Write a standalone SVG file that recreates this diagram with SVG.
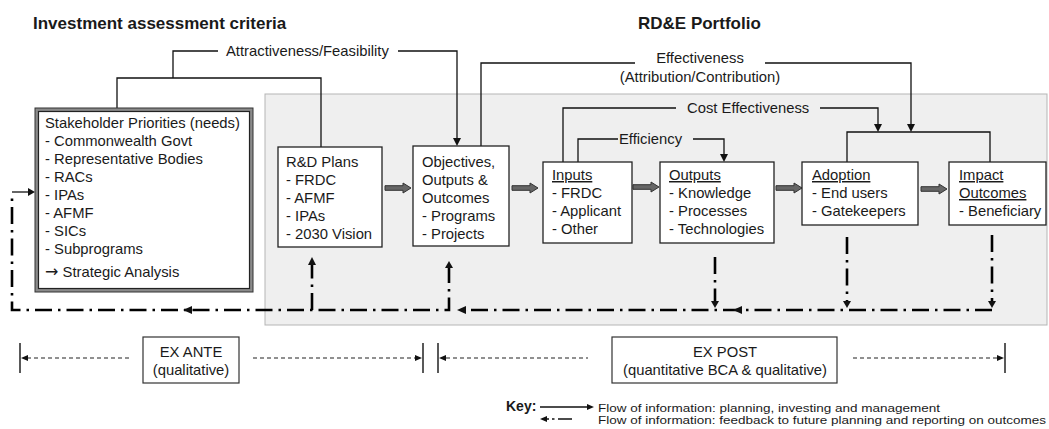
<svg xmlns="http://www.w3.org/2000/svg" width="1049" height="429" viewBox="0 0 1049 429">
<defs>
<style>
text{font-family:"Liberation Sans",Arial,sans-serif;fill:#1a1a1a}
.t{font-size:14.8px}
.h{font-size:17px;font-weight:bold}
.k{font-size:11.5px}
.u{text-decoration:underline}
.box{fill:#fff;stroke:#222;stroke-width:1.3}
.ln{fill:none;stroke:#111;stroke-width:1.3}
.fb{fill:none;stroke:#000;stroke-width:2.6;stroke-dasharray:17 6 2.5 6}
.dsh{fill:none;stroke:#222;stroke-width:1.1;stroke-dasharray:4 3}
.bar{stroke:#222;stroke-width:1.5}
.ah{fill:#111}
.blk{fill:#666;stroke:#333;stroke-width:1}
.arr{font-family:"DejaVu Sans","Noto Sans",sans-serif;font-size:16px}
</style>
<path id="blk" d="M0,-2.3 H18 V-5 L26,0 L18,5 V2.3 H0 Z"/>
</defs>

<text class="h" x="33" y="29">Investment assessment criteria</text>
<text class="h" x="638" y="29">RD&amp;E Portfolio</text>

<rect id="panel" x="265" y="94" width="782" height="231" fill="#efefef" stroke="#b5b5b5" stroke-width="1"/>

<g id="connectors">
<!-- Attractiveness / Feasibility -->
<path class="ln" d="M117,108 V78 H321 V147"/>
<path class="ln" d="M173,78 V51 H218"/>
<path class="ln" d="M398,51 H457 V139"/>
<polygon class="ah" points="453,138 461,138 457,146"/>
<!-- Effectiveness -->
<path class="ln" d="M481,146 V63 H635"/>
<path class="ln" d="M765,63 H911 V125"/>
<polygon class="ah" points="907,124 915,124 911,132"/>
<!-- Cost Effectiveness -->
<path class="ln" d="M563,162 V108 H676"/>
<path class="ln" d="M820,108 H878 V125"/>
<polygon class="ah" points="874,124 882,124 878,132"/>
<!-- bracket over Adoption/Impact -->
<path class="ln" d="M847,162 V132 H990 V162"/>
<!-- Efficiency -->
<path class="ln" d="M578,162 V139 H618"/>
<path class="ln" d="M693,139 H724 V155"/>
<polygon class="ah" points="720,154 728,154 724,162"/>

<!-- block arrows -->
<use href="#blk" class="blk" x="385" y="188"/>
<use href="#blk" class="blk" x="512" y="188"/>
<use href="#blk" class="blk" x="633" y="187"/>
<use href="#blk" class="blk" x="776" y="188"/>
<use href="#blk" class="blk" x="921" y="189"/>

<!-- entry arrow -->
<path class="ln" d="M12,192 H29" stroke-width="1.8"/>
<polygon class="ah" points="28,188 35,192 28,196"/>

<!-- feedback lines -->
<path class="fb" d="M449,266 V310 H12 V198"/>
<polygon class="ah" points="183,310 192,306 192,314"/>
<polygon class="ah" points="445,268 453,268 449,261"/>
<path class="fb" d="M312,310 V264"/>
<polygon class="ah" points="308,265 316,265 312,257"/>
<path class="fb" d="M992,310 H465"/>
<polygon class="ah" points="457,310 466,306 466,314"/>
<polygon class="ah" points="733,310 742,306 742,314"/>
<path class="fb" d="M715,257 V302"/>
<polygon class="ah" points="711,301 719,301 715,308"/>
<path class="fb" d="M847,237 V302"/>
<polygon class="ah" points="843,301 851,301 847,308"/>
<path class="fb" d="M992,235 V302"/>
<polygon class="ah" points="988,301 996,301 992,308"/>
</g>

<g id="labels">
<text class="t" x="226" y="56">Attractiveness/Feasibility</text>
<text class="t" x="700" y="63" text-anchor="middle">Effectiveness</text>
<text class="t" x="700" y="82" text-anchor="middle">(Attribution/Contribution)</text>
<text class="t" x="687" y="113">Cost Effectiveness</text>
<text class="t" x="619" y="144">Efficiency</text>
</g>

<g id="stakeholder">
<rect x="35" y="108" width="218" height="184" fill="#8a8a8a" stroke="#333" stroke-width="1"/>
<rect x="38.5" y="111.5" width="211" height="177" fill="#fff" stroke="#222" stroke-width="1.2"/>
<text class="t" x="45" y="128">Stakeholder Priorities (needs)</text>
<text class="t" x="45" y="146">- Commonwealth Govt</text>
<text class="t" x="45" y="164">- Representative Bodies</text>
<text class="t" x="45" y="182">- RACs</text>
<text class="t" x="45" y="200">- IPAs</text>
<text class="t" x="45" y="218">- AFMF</text>
<text class="t" x="45" y="236">- SICs</text>
<text class="t" x="45" y="254">- Subprograms</text>
<text class="t" x="45" y="277"><tspan class="arr">→</tspan> Strategic Analysis</text>
</g>

<g id="rdplans">
<rect class="box" x="278" y="147" width="104" height="100"/>
<text class="t" x="286" y="167">R&amp;D Plans</text>
<text class="t" x="286" y="185">- FRDC</text>
<text class="t" x="286" y="203">- AFMF</text>
<text class="t" x="286" y="221">- IPAs</text>
<text class="t" x="286" y="239">- 2030 Vision</text>
</g>

<g id="objectives">
<rect class="box" x="413" y="146" width="96" height="100"/>
<text class="t" x="422" y="167">Objectives,</text>
<text class="t" x="422" y="185">Outputs &amp;</text>
<text class="t" x="422" y="203">Outcomes</text>
<text class="t" x="422" y="221">- Programs</text>
<text class="t" x="422" y="239">- Projects</text>
</g>

<g id="inputs">
<rect class="box" x="543" y="162" width="89" height="81"/>
<text class="t u" x="552" y="180">Inputs</text>
<text class="t" x="552" y="198">- FRDC</text>
<text class="t" x="552" y="216">- Applicant</text>
<text class="t" x="552" y="234">- Other</text>
</g>

<g id="outputs">
<rect class="box" x="660" y="162" width="114" height="81"/>
<text class="t u" x="669" y="180">Outputs</text>
<text class="t" x="669" y="198">- Knowledge</text>
<text class="t" x="669" y="216">- Processes</text>
<text class="t" x="669" y="234">- Technologies</text>
</g>

<g id="adoption">
<rect class="box" x="802" y="162" width="116" height="63"/>
<text class="t u" x="812" y="180">Adoption</text>
<text class="t" x="812" y="198">- End users</text>
<text class="t" x="812" y="216">- Gatekeepers</text>
</g>

<g id="impact">
<rect class="box" x="949" y="162" width="97" height="63"/>
<text class="t u" x="959" y="180">Impact</text>
<text class="t u" x="959" y="198">Outcomes</text>
<text class="t" x="959" y="216">- Beneficiary</text>
</g>

<g id="exante">
<line class="bar" x1="20" y1="343" x2="20" y2="373"/>
<path class="dsh" d="M27,358 H130"/>
<polygon class="ah" points="21,358 28,355 28,361"/>
<rect x="143" y="337" width="96" height="46" fill="#fff" stroke="#333" stroke-width="1.2"/>
<text class="t" x="191" y="357" text-anchor="middle">EX ANTE</text>
<text class="t" x="191" y="375" text-anchor="middle">(qualitative)</text>
<path class="dsh" d="M253,358 H416"/>
<polygon class="ah" points="422,358 415,355 415,361"/>
<line class="bar" x1="423" y1="343" x2="423" y2="373"/>
</g>

<g id="expost">
<line class="bar" x1="438" y1="343" x2="438" y2="373"/>
<polygon class="ah" points="439,358 446,355 446,361"/>
<path class="dsh" d="M446,358 H588"/>
<rect x="612" y="337" width="225" height="46" fill="#fff" stroke="#333" stroke-width="1.2"/>
<text class="t" x="725" y="357" text-anchor="middle">EX POST</text>
<text class="t" x="725" y="375" text-anchor="middle">(quantitative BCA &amp; qualitative)</text>
<path class="dsh" d="M853,358 H998"/>
<polygon class="ah" points="1004,358 997,355 997,361"/>
<line class="bar" x1="1005" y1="343" x2="1005" y2="373"/>
</g>

<g id="key">
<text x="506" y="411" style="font-size:14px;font-weight:bold">Key:</text>
<line x1="540" y1="407" x2="588" y2="407" stroke="#111" stroke-width="1.3"/>
<polygon class="ah" points="594,407 587,404 587,410"/>
<text class="k" x="598" y="411.5" textLength="342" lengthAdjust="spacingAndGlyphs">Flow of information: planning, investing and management</text>
<polygon class="ah" points="540,419 547,416 547,422"/>
<path d="M547,419 H549 M552,419 H554.5 M558,419 H572" stroke="#111" stroke-width="1.6" fill="none"/>
<text class="k" x="598" y="423.5" textLength="448" lengthAdjust="spacingAndGlyphs">Flow of information: feedback to future planning and reporting on outcomes</text>
</g>
</svg>
